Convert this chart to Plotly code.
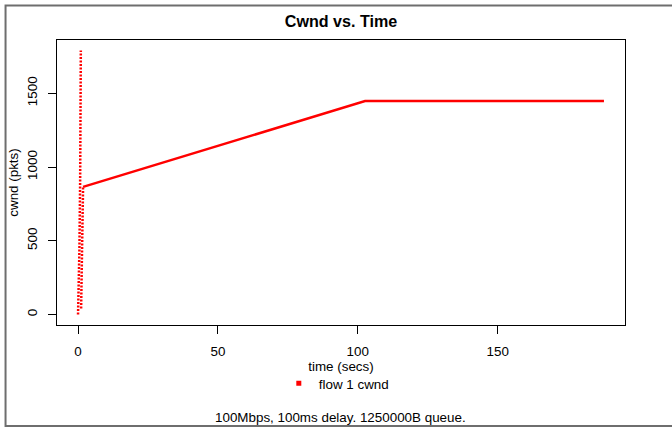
import plotly.graph_objects as go

# ---- data ----
ss1_time = [0.0, 0.25, 0.5, 0.75, 0.9, 1.0]
ss1_cwnd = [0, 150, 450, 900, 1400, 1790]

ss2_time = [1.1, 1.25, 1.4, 1.6, 1.8]
ss2_cwnd = [40, 250, 500, 720, 865]

ca_time = [1.8, 102.6, 188.0]
ca_cwnd = [865, 1448, 1448]

x_ticks = [0, 50, 100, 150]
y_ticks = [0, 500, 1000, 1500]

title_text = "Cwnd vs. Time"
x_title = "time (secs)"
y_title = "cwnd (pkts)"
legend_name = "flow 1 cwnd"
subtitle = "100Mbps, 100ms delay. 1250000B queue."

# ---- figure ----
FONT = "Liberation Sans, Arial, Helvetica, sans-serif"
FS = 13.4
W, H = 672, 427
L, R, T, B = 57, 46.5, 40, 102.3
PW, PH = W - L - R, H - T - B

all_x = ss1_time + ss2_time + ca_time
all_y = ss1_cwnd + ss2_cwnd + ca_cwnd
xmin, xmax = min(all_x), max(all_x)
ymin, ymax = min(all_y), max(all_y)
xe, ye = 0.04 * (xmax - xmin), 0.04 * (ymax - ymin)

fig = go.Figure()
fig.add_trace(go.Scatter(x=ss1_time, y=ss1_cwnd, mode="lines",
                         line=dict(color="red", width=2.5, dash="2px,1.5px"),
                         showlegend=False, hoverinfo="skip"))
fig.add_trace(go.Scatter(x=ss2_time, y=ss2_cwnd, mode="lines",
                         line=dict(color="red", width=2.5, dash="2px,1.5px"),
                         showlegend=False, hoverinfo="skip"))
fig.add_trace(go.Scatter(x=ca_time, y=ca_cwnd, mode="lines",
                         line=dict(color="red", width=2.5),
                         showlegend=False))
fig.add_trace(go.Scatter(x=[None], y=[None], mode="markers", name=legend_name,
                         marker=dict(symbol="square", size=5, color="red")))

def px2paper_x(px):
    return (px - L) / PW

def px2paper_y(py):
    return (H - B - py) / PH

fig.update_layout(
    width=W, height=H,
    margin=dict(l=L, r=R, t=T, b=B, pad=0),
    paper_bgcolor="white", plot_bgcolor="white",
    font=dict(family=FONT, size=FS, color="black"),
    title=dict(text="<b>" + title_text + "</b>", x=0.5, xref="paper", xanchor="center",
               y=1 - 21.5 / H, yanchor="middle",
               font=dict(family=FONT, size=16.1, color="black")),
    xaxis=dict(range=[xmin - xe, xmax + xe], tickvals=x_ticks,
               ticks="outside", ticklen=8, tickcolor="black", tickwidth=1,
               showline=True, linecolor="black", linewidth=1, mirror=True,
               showgrid=False, zeroline=False, ticklabelstandoff=6,
               tickfont=dict(size=FS),
               title=dict(text=x_title, standoff=3, font=dict(size=FS))),
    yaxis=dict(range=[ymin - ye, ymax + ye], tickvals=y_ticks, tickangle=-90,
               ticks="outside", ticklen=8, tickcolor="black", tickwidth=1,
               showline=True, linecolor="black", linewidth=1, mirror=True,
               showgrid=False, zeroline=False, ticklabelstandoff=6,
               tickfont=dict(size=FS),
               title=dict(text=y_title, standoff=2, font=dict(size=FS))),
    legend=dict(orientation="h", x=px2paper_x(279), xanchor="left",
                y=px2paper_y(383.3), yanchor="middle",
                bgcolor="rgba(0,0,0,0)", font=dict(size=FS)),
    annotations=[dict(text=subtitle, xref="paper", yref="paper",
                      x=px2paper_x(341), y=px2paper_y(417), xanchor="center",
                      yanchor="middle", showarrow=False, font=dict(size=FS))],
    shapes=[dict(type="rect", xref="paper", yref="paper",
                 x0=px2paper_x(5.5), x1=px2paper_x(690),
                 y0=px2paper_y(425.5), y1=px2paper_y(5.5),
                 line=dict(color="#6e6e6e", width=2), layer="below")],
)

fig.write_html("out.html",
               config={"displayModeBar": False},
               post_script="document.body.style.margin='0';document.body.style.overflow='hidden';")
